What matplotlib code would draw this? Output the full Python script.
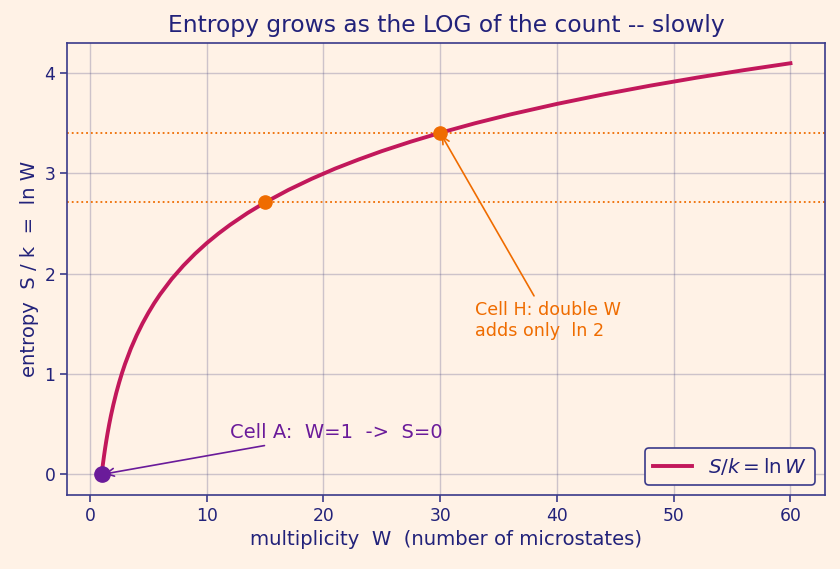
import matplotlib
matplotlib.use("Agg")
import matplotlib.pyplot as plt

# multiplicity W and entropy S/k
W = [1, 1.05, 1.1, 1.2, 1.3, 1.4, 1.5, 1.65, 1.8, 2, 2.25, 2.5, 2.75, 3, 3.5, 4,
     4.5, 5, 5.5, 6, 7, 8, 9, 10, 11, 12, 13.5, 15, 17, 19, 21, 23, 25, 27.5,
     30, 33, 36, 40, 44, 48, 52, 56, 60]
S = [0.0, 0.049, 0.095, 0.182, 0.262, 0.336, 0.405, 0.501, 0.588, 0.693, 0.811,
     0.916, 1.012, 1.099, 1.253, 1.386, 1.504, 1.609, 1.705, 1.792, 1.946,
     2.079, 2.197, 2.303, 2.398, 2.485, 2.603, 2.708, 2.833, 2.944, 3.045,
     3.135, 3.219, 3.314, 3.401, 3.497, 3.584, 3.689, 3.784, 3.871, 3.951,
     4.025, 4.094]

W_a, S_a = 1, 0.0
W_pts = [15, 30]
S_pts = [2.708, 3.401]

bg = "#fff2e6"
navy = "#22227a"
crimson = "#c2185b"
purple = "#6a1b9a"
orange = "#ef6c00"

fig, ax = plt.subplots(figsize=(8.4, 5.69), dpi=100)
fig.patch.set_facecolor(bg)
ax.set_facecolor(bg)

ax.plot(W, S, color=crimson, lw=2.8, label=r"$S/k = \ln W$", zorder=3)
for s in S_pts:
    ax.axhline(s, color=orange, ls=":", lw=1.3, zorder=2)
ax.plot(W_pts, S_pts, "o", color=orange, ms=9.5, zorder=4)
ax.plot([W_a], [S_a], "o", color=purple, ms=11, zorder=4)

ax.annotate("Cell A:  W=1  ->  S=0", xy=(W_a, S_a), xytext=(12, 0.36),
            color=purple, fontsize=14,
            arrowprops=dict(arrowstyle="->", color=purple, lw=1.2))
ax.annotate("Cell H: double W\nadds only  ln 2", xy=(W_pts[1], S_pts[1]),
            xytext=(33, 1.38), color=orange, fontsize=12.6,
            arrowprops=dict(arrowstyle="->", color=orange, lw=1.2))

ax.grid(True, color="#3a3a7a", alpha=0.25, lw=1)
ax.set_axisbelow(True)
for sp in ax.spines.values():
    sp.set_color("#3a3a8a")
    sp.set_linewidth(1.2)
ax.tick_params(colors="#3a3a8a", labelcolor=navy, labelsize=12.3, width=1.2, length=5)

ax.set_title("Entropy grows as the LOG of the count -- slowly", color=navy,
             fontsize=16.8, pad=8)
ax.set_xlabel("multiplicity  W  (number of microstates)", color=navy, fontsize=14.1)
ax.set_ylabel("entropy  S / k  =  ln W", color=navy, fontsize=14.1)

leg = ax.legend(loc="lower right", fontsize=14.3, facecolor=bg, edgecolor="#3a3a8a",
                framealpha=1)
leg.get_frame().set_linewidth(1.2)
for t in leg.get_texts():
    t.set_color(navy)

fig.subplots_adjust(left=0.08, right=0.982, top=0.925, bottom=0.13)
fig.savefig("out.png", dpi=100, facecolor=bg)
